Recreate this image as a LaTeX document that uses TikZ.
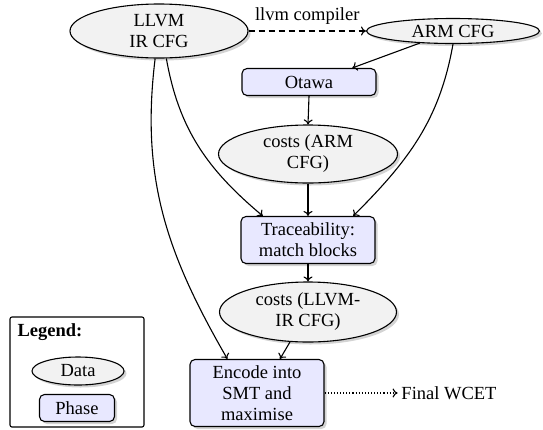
\documentclass[tikz,border=0pt]{standalone}
\usepackage{fontspec}
\setmainfont{Liberation Serif}
\usetikzlibrary{shapes.geometric,shadows,arrows.meta}
\begin{document}
\begin{tikzpicture}[x=1pt,y=1pt,
  font=\fontsize{18.5}{21}\selectfont,
  every path/.style={line width=1.1pt},
  shad/.style={drop shadow={opacity=0.35,shadow xshift=2.5pt,shadow yshift=-2.5pt}},
  data/.style={ellipse,draw,fill=gray!10,inner sep=0pt,align=center,shad},
  phase/.style={rectangle,rounded corners=5pt,draw,fill=blue!9,inner sep=0pt,align=center,shad},
  conn/.style={-{To[length=5pt,width=9pt]}},
]
\useasboundingbox (0,-429) rectangle (543,0);
\node[data,minimum width=178,minimum height=54] (llvm) at (159,-31) {LLVM\\IR CFG};
\node[data,minimum width=173,minimum height=25] (arm) at (453,-31) {ARM CFG};
\node[phase,minimum width=134,minimum height=27] (otawa) at (309,-82) {Otawa};
\node[data,minimum width=179,minimum height=58] (carm) at (308,-154) {costs (ARM\\CFG)};
\node[phase,minimum width=134,minimum height=47] (trace) at (308,-240) {Traceability:\\match blocks};
\node[data,minimum width=177,minimum height=60] (cllvm) at (308,-312) {costs (LLVM-\\IR CFG)};
\node[phase,minimum width=134,minimum height=67] (encode) at (257,-393) {Encode into\\SMT and\\maximise};
\node (wcet) at (449,-393) {Final WCET};

\node[draw,rounded corners=2pt,minimum width=134,minimum height=110,inner sep=0pt] (legend) at (77,-372) {};
\node (legtitle) at (50,-332) {\bfseries Legend:};
\node[data,minimum width=92,minimum height=28] (legdata) at (78,-371) {Data};
\node[phase,minimum width=75,minimum height=27] (legphase) at (77,-408) {Phase};

\draw[conn,dashed,dash pattern=on 6pt off 4pt] (llvm.east) -- node[above=3pt] {llvm compiler} (arm.west);
\draw[conn] (arm.200) -- (otawa.18);
\draw[conn] (otawa.south) -- (carm.north);
\draw[conn] (carm.south) -- (trace.north);
\draw[conn] (llvm.285) to[out=-80,in=140] (trace.152);
\draw[conn] (arm.south) to[out=-100,in=45] (trace.28);
\draw[conn] (trace.south) -- (cllvm.north);
\draw[conn] (cllvm.239) -- (encode.56);
\draw[conn] (llvm.262) to[out=-97,in=120] (encode.131);
\draw[conn,dotted] (encode.east) -- (wcet.west);
\end{tikzpicture}
\end{document}
